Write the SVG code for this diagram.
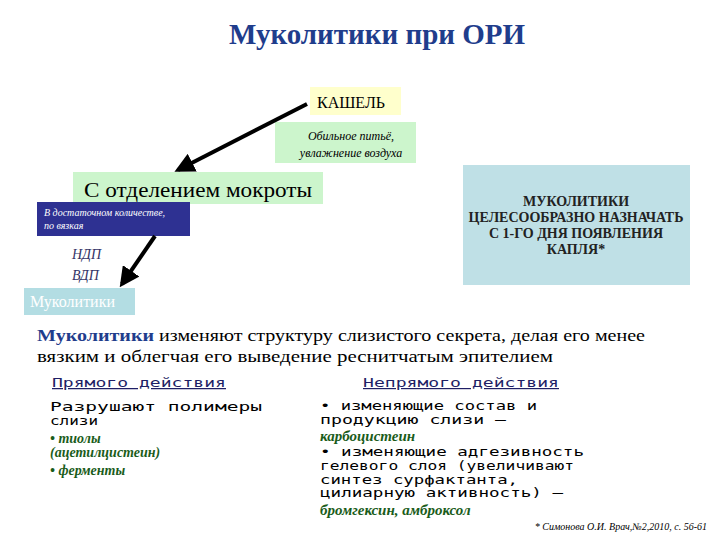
<svg xmlns="http://www.w3.org/2000/svg" width="720" height="540" viewBox="0 0 720 540">
<style>
.s{font-family:"Liberation Serif","DejaVu Serif",serif}
.m{font-family:"DejaVu Sans Mono","Liberation Mono",monospace}
.g{font-family:"Liberation Serif","DejaVu Serif",serif;font-style:italic;font-weight:bold;fill:#1a5c1a}
</style>
<defs><marker id="ah" viewBox="0 0 10 10" refX="8" refY="5" markerWidth="5" markerHeight="5" orient="auto"><path d="M0,0L10,5L0,10z" fill="#000"/></marker></defs>
<rect width="720" height="540" fill="#fff"/>
<text class="s" x="377" y="44" text-anchor="middle" font-size="29" font-weight="bold" fill="#1f3d8c">Муколитики при ОРИ</text>
<g id="cough"><rect x="310" y="87" width="91" height="28" fill="#ffffcc"/><text class="s" x="317" y="108" font-size="16">КАШЕЛЬ</text></g>
<g id="drink"><rect x="275" y="122" width="141" height="41" fill="#ccf5cc"/><text class="s" x="351" y="140" font-size="12" font-style="italic" text-anchor="middle">Обильное питьё,</text><text class="s" x="351" y="157" font-size="12" font-style="italic" text-anchor="middle">увлажнение воздуха</text></g>
<g id="sputum"><rect x="73" y="172" width="250" height="32" fill="#ccf5cc"/><text class="s" x="84" y="197" font-size="21" textLength="228" lengthAdjust="spacingAndGlyphs">С  отделением  мокроты</text></g>
<g id="viscous"><rect x="37" y="202" width="153" height="34" fill="#2e3192"/><text class="s" x="44" y="216" font-size="10" font-style="italic" fill="#fff">В достаточном количестве,</text><text class="s" x="44" y="229" font-size="10" font-style="italic" fill="#fff">по вязкая</text></g>
<g id="ndp"><text class="s" x="72" y="259" font-size="14" font-style="italic" fill="#333366">НДП</text><text class="s" x="72" y="280" font-size="14" font-style="italic" fill="#333366">ВДП</text></g>
<g id="muco"><rect x="24" y="288" width="111" height="27" fill="#b3dde3"/><text class="s" x="30" y="307" font-size="16" fill="#fff">Муколитики</text></g>
<g id="connectors" stroke="#000" stroke-width="4" fill="none">
<line x1="307" y1="104" x2="178" y2="170" marker-end="url(#ah)"/>
<line x1="155" y1="236" x2="122" y2="284" marker-end="url(#ah)"/>
</g>
<g id="note"><rect x="463" y="165" width="227" height="120" fill="#bfe0e6"/>
<g class="s" font-size="14" font-weight="bold" text-anchor="middle" fill="#222"><text x="576" y="206">МУКОЛИТИКИ</text><text x="576" y="222">ЦЕЛЕСООБРАЗНО НАЗНАЧАТЬ</text><text x="576" y="238">С 1-ГО ДНЯ ПОЯВЛЕНИЯ</text><text x="576" y="254">КАПЛЯ*</text></g></g>
<g id="desc" class="s" font-size="17"><text x="37" y="341" textLength="608" lengthAdjust="spacingAndGlyphs"><tspan fill="#1f3d8c" font-weight="bold">Муколитики</tspan>  изменяют структуру слизистого  секрета, делая его менее</text><text x="37" y="362" textLength="516" lengthAdjust="spacingAndGlyphs">вязким и облегчая его выведение реснитчатым эпителием</text></g>
<g id="direct" class="m" font-size="12.5">
<text x="52" y="387" fill="#1f1f66" text-decoration="underline" textLength="174" lengthAdjust="spacingAndGlyphs">Прямого действия</text>
<text x="50" y="411" textLength="212" lengthAdjust="spacingAndGlyphs">Разрушают полимеры</text><text x="50" y="425" textLength="48" lengthAdjust="spacingAndGlyphs">слизи</text>
<text x="50" y="443" class="g" font-size="14">• тиолы</text>
<text x="50" y="457" class="g" font-size="14">(ацетилцистеин)</text>
<text x="50" y="475" class="g" font-size="14">• ферменты</text>
</g>
<g id="indirect" class="m" font-size="12">
<text x="363" y="387" fill="#1f1f66" text-decoration="underline" textLength="196" lengthAdjust="spacingAndGlyphs">Непрямого действия</text>
<text x="320" y="410" textLength="217" lengthAdjust="spacingAndGlyphs">• изменяющие состав и</text><text x="320" y="424" textLength="186" lengthAdjust="spacingAndGlyphs">продукцию слизи –</text>
<text x="320" y="441" class="g" font-size="15">карбоцистеин</text>
<text x="320" y="456" textLength="264" lengthAdjust="spacingAndGlyphs">• изменяющие адгезивность</text><text x="320" y="470" textLength="254" lengthAdjust="spacingAndGlyphs">гелевого слоя (увеличивают</text><text x="320" y="484" textLength="198" lengthAdjust="spacingAndGlyphs">синтез сурфактанта,</text><text x="320" y="497" textLength="243" lengthAdjust="spacingAndGlyphs">цилиарную активность) –</text>
<text x="320" y="515" class="g" font-size="15">бромгексин, амброксол</text>
</g>
<text class="s" x="707" y="530" font-size="10" font-style="italic" text-anchor="end">* Симонова О.И. Врач,№2,2010, с. 56-61</text>
</svg>
